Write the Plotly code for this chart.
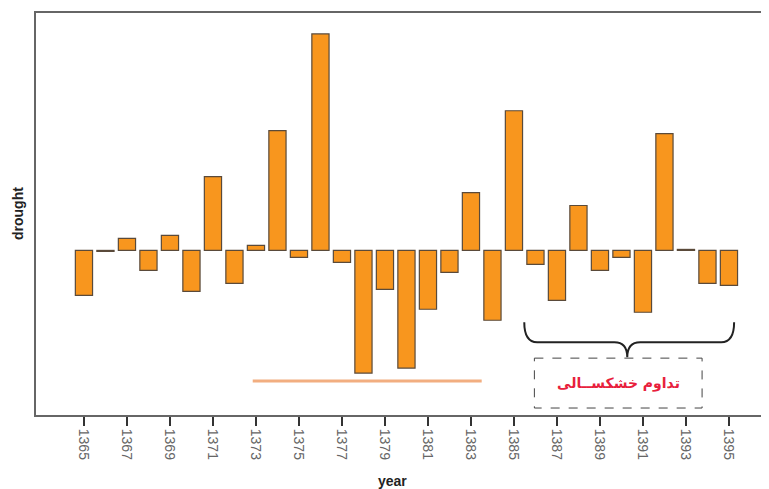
import plotly.graph_objects as go

years = list(range(1365, 1396))
drought = [-0.45, -0.01, 0.12, -0.20, 0.15, -0.41, 0.74, -0.33, 0.05, 1.20,
           -0.07, 2.17, -0.12, -1.23, -0.39, -1.18, -0.59, -0.22, 0.58, -0.70,
           1.40, -0.14, -0.50, 0.45, -0.20, -0.07, -0.62, 1.17, 0.01, -0.33, -0.35]
tick_years = list(range(1365, 1396, 2))
tick_labels = [str(y) for y in tick_years]
label_text = "تداوم خشکســالی"

fig = go.Figure()
fig.add_trace(go.Bar(
    x=years, y=drought, width=0.8,
    marker=dict(color="#F8961E", line=dict(color="#5a4a3a", width=1.2)),
    showlegend=False,
))

# orange horizontal line under 1373-1383
fig.add_shape(type="line", xref="x", yref="y", x0=1372.85, x1=1383.5, y0=-1.31, y1=-1.31,
              line=dict(color="#F2AE80", width=3))

# curly brace over 1386-1395
x0, x1, xc = 1385.48, 1395.24, 1390.27
yt, yh, ytip = -0.72, -0.92, -1.07
brace = (f"M {x0},{yt} Q {x0},{yh} {x0+0.6},{yh} L {xc-0.6},{yh} "
         f"Q {xc},{yh} {xc},{ytip} Q {xc},{yh} {xc+0.6},{yh} "
         f"L {x1-0.6},{yh} Q {x1},{yh} {x1},{yt}")
fig.add_shape(type="path", xref="x", yref="y", path=brace,
              line=dict(color="#222222", width=2))

# dashed box
fig.add_shape(type="rect", xref="x", yref="y", x0=1385.95, x1=1393.75, y0=-1.08, y1=-1.58,
              line=dict(color="#444444", width=1, dash="dash"), fillcolor="white")
fig.add_annotation(x=1389.85, y=-1.33, xref="x", yref="y", text=f"<b>{label_text}</b>",
                   showarrow=False, font=dict(family="DejaVu Sans", size=14, color="#E8203C"))

# axis titles
fig.add_annotation(x=-0.0247, y=0.5, xref="paper", yref="paper", text="<b>drought</b>",
                   textangle=-90, showarrow=False, xanchor="center", yanchor="middle",
                   font=dict(family="Liberation Sans", size=14, color="#222222"))
fig.add_annotation(x=0.49, y=-0.164, xref="paper", yref="paper", text="<b>year</b>",
                   showarrow=False, xanchor="center", yanchor="middle",
                   font=dict(family="Liberation Sans", size=14, color="#222222"))

fig.update_layout(
    width=761, height=481,
    margin=dict(l=28, r=3, t=4, b=74),
    paper_bgcolor="white", plot_bgcolor="white",
    bargap=0.2,
    xaxis=dict(range=[1362.77, 1396.63], tickmode="array", tickvals=tick_years,
               ticktext=tick_labels, tickangle=90, ticks="outside", ticklen=9,
               tickcolor="#333333", tickwidth=1.5,
               tickfont=dict(family="Liberation Sans", size=14, color="#666666"),
               showline=True, linecolor="#666666", linewidth=2, mirror=True,
               showgrid=False, zeroline=False),
    yaxis=dict(range=[-1.65, 2.38], showticklabels=False, ticks="",
               showline=True, linecolor="#666666", linewidth=2, mirror=True,
               showgrid=False, zeroline=False),
)

fig.write_html("out.html")
